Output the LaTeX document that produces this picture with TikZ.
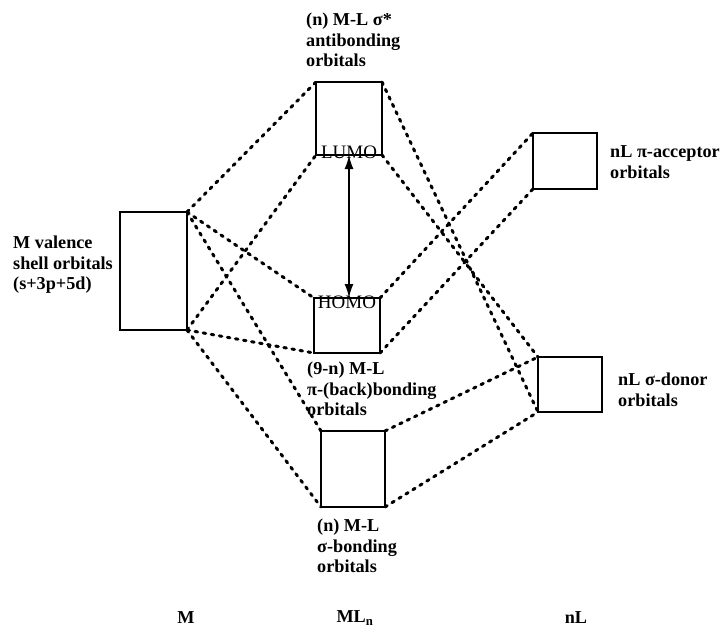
\documentclass[tikz,border=0pt]{standalone}
\usepackage{fontspec}
\setmainfont{Liberation Serif}
\usetikzlibrary{arrows.meta}

\tikzset{
    orb/.style={draw, line width=2.3pt, inner sep=0pt, outer sep=0pt},
    mix/.style={line width=3pt, line cap=round, dash pattern=on 2.6pt off 5.6pt},
    lbl/.style={font=\fontsize{18.2}{20.5}\selectfont\bfseries, align=left, anchor=west, inner sep=0pt},
    tag/.style={font=\fontsize{19}{20}\selectfont, inner sep=0pt},
}

\begin{document}
\begin{tikzpicture}[x=1pt, y=-1pt]
    \useasboundingbox (0,0) rectangle (723,632);
    % orbital boxes
    \node[orb, minimum width=67pt, minimum height=118pt] (m) at (153.5, 271) {};
    \node[orb, minimum width=66pt, minimum height=73pt] (lumo) at (349, 118.5) {};
    \node[orb, minimum width=66pt, minimum height=55pt] (homo) at (347, 325.5) {};
    \node[orb, minimum width=64pt, minimum height=76pt] (bond) at (353, 469) {};
    \node[orb, minimum width=64pt, minimum height=56pt] (acc) at (565, 161) {};
    \node[orb, minimum width=64pt, minimum height=55pt] (don) at (570, 384.5) {};
    \node[tag, anchor=base] at ([yshift=-3pt]lumo.south) {LUMO};
    \node[tag, anchor=north] at ([yshift=2pt]homo.north) {HOMO};
    % metal side
    \draw[mix] (m.north east) -- (lumo.north west);
    \draw[mix] (m.north east) -- (homo.north west);
    \draw[mix] (m.north east) -- (bond.north west);
    \draw[mix] (m.south east) -- (lumo.south west);
    \draw[mix] (m.south east) -- (homo.south west);
    \draw[mix] (m.south east) -- (bond.south west);
    % ligand side
    \draw[mix] (lumo.north east) -- (don.south west);
    \draw[mix] (lumo.south east) -- (don.north west);
    \draw[mix] (homo.north east) -- (acc.north west);
    \draw[mix] (homo.south east) -- (acc.south west);
    \draw[mix] (bond.north east) -- (don.north west);
    \draw[mix] (bond.south east) -- (don.south west);
    \draw[{Latex[length=14pt,width=9pt]}-{Latex[length=14pt,width=9pt]}, line width=2pt] (lumo.south) -- (lumo.south |- homo.north);
    % labels
    \node[lbl] (lm) at (13, 265) {M valence\\shell orbitals\\(s+3p+5d)};
    \node[lbl] (llumo) at (306, 40) {(n) M-L σ*\\antibonding\\orbitals};
    \node[lbl] (lhomo) at (307, 389) {(9-n) M-L\\π-(back)bonding\\orbitals};
    \node[lbl] (lbond) at (317, 546) {(n) M-L\\σ-bonding\\orbitals};
    \node[lbl] (lacc) at (610, 162) {nL π-acceptor\\orbitals};
    \node[lbl] (ldon) at (618, 390) {nL σ-donor\\orbitals};
    \node[lbl, anchor=center] (tm) at (186, 618) {M};
    \node[lbl, anchor=center] (tml) at (355, 618) {ML\textsubscript{n}};
    \node[lbl, anchor=center] (tl) at (576, 618) {nL};
\end{tikzpicture}
\end{document}
